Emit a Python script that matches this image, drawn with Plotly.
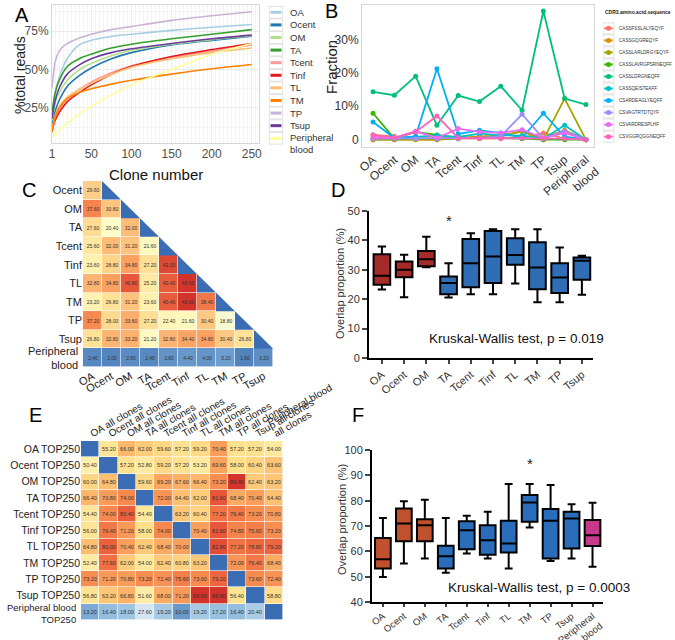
import plotly.graph_objects as go

FONT = "Arial, 'Liberation Sans', sans-serif"
W, H = 675, 640

# ---------------- Panel A : cumulative reads ----------------
clone_number = [1, 5, 10, 20, 35, 50, 75, 100, 150, 200, 250]
samples_a = ["OA", "Ocent", "OM", "TA", "Tcent", "Tinf", "TL", "TM", "TP", "Tsup", "Peripheral blood"]
reads_OA = [20, 35, 45, 57, 66, 69, 71.5, 73, 75.5, 77.5, 79.3]
reads_Ocent = [14, 23, 30, 39, 46, 51, 57, 61, 66, 69, 71.7]
reads_OM = [17, 28, 35, 43, 50, 54, 59, 62.5, 66.5, 69.5, 72]
reads_TA = [22, 35, 43, 52, 57, 60, 64, 66.5, 70, 73, 76]
reads_Tcent = [11, 19, 24, 31, 37, 42, 48, 52.5, 58, 62, 66]
reads_Tinf = [10, 17, 22, 29, 35, 40, 47, 52, 58.5, 63, 67]
reads_TL = [10, 20, 26, 32, 37, 41, 47, 51.5, 57, 61, 64]
reads_TM = [9, 19, 25, 31, 35, 37.5, 40.5, 43, 47, 50.5, 53.3]
reads_TP = [37.6, 55, 62, 67, 70.5, 73, 76, 78, 82, 85, 87.6]
reads_Tsup = [18, 30, 38, 47, 53, 57, 61, 63.5, 67, 70, 72.4]
reads_PB = [6, 8, 10.5, 15, 21, 26, 33.5, 40, 50, 60, 67]
colors_a = ["#a6cee3", "#1f78b4", "#b2df8a", "#33a02c", "#fb9a99", "#e31a1c",
            "#fdbf6f", "#ff7f00", "#cab2d6", "#6a3d9a", "#ffff99"]
legend_a_labels = ["OA", "Ocent", "OM", "TA", "Tcent", "Tinf", "TL", "TM", "TP", "Tsup", "Peripheral<br>blood"]

# ---------------- Panel B : top clonotypes ----------------
tissues_b = ["OA", "Ocent", "OM", "TA", "Tcent", "Tinf", "TL", "TM", "TP", "Tsup", "Peripheral<br>blood"]
cdr3_seqs = ["CASSFSSLALYEQYF", "CASSGQGREQYF", "CASSLARLDRGYEQYF", "CASSLAVRGPSRNEQFF",
             "CASSLDRGNEQFF", "CASSQEISTEAFF", "CSARDEAGLYEQFF", "CSVAGTRTDTQYF",
             "CSVARDRESPLHF", "CSVGGRQGGNEQFF"]
frac_1 = [1.5, 1.0, 0.3, 0.5, 0.3, 0.3, 0.5, 0.5, 2.0, 0.3, 0]
frac_2 = [0, 0, 0.2, 0, 0.5, 1.0, 1.2, 2.5, 0.5, 2.8, 0]
frac_3 = [0, 0, 0, 0, 0.3, 0.8, 1.0, 2.5, 0, 12.3, 0]
frac_4 = [7.9, 0.3, 2.3, 1.4, 0.5, 0.5, 0.5, 0.3, 0, 0, 0]
frac_5 = [14.3, 13.3, 19.0, 4.3, 13.2, 11.4, 16.0, 8.8, 38.5, 12.3, 10.5]
frac_6 = [0.5, 0.3, 0.8, 1.3, 0.8, 1.8, 1.3, 1.2, 0.3, 4.3, 0]
frac_7 = [5.3, 0.5, 1.0, 21.2, 1.7, 2.8, 2.0, 0.5, 7.9, 0.9, 0]
frac_8 = [0.3, 0.3, 0.3, 0.3, 0.3, 0.5, 1.0, 7.6, 0.3, 2.5, 0]
frac_9 = [0.5, 0.5, 2.5, 0.5, 3.3, 2.3, 2.0, 3.0, 0.5, 2.0, 0]
frac_10 = [1.3, 0.5, 2.3, 7.1, 0.5, 0.5, 0.3, 0.5, 0.3, 0.3, 0]
colors_b = ["#F8766D", "#D89000", "#A3A500", "#39B600", "#00BF7D",
            "#00BFC4", "#00B0F6", "#9590FF", "#E76BF3", "#FF62BC"]

# ---------------- Panel C : pairwise overlap (TOP250) ----------------
c_rows = ["Ocent", "OM", "TA", "Tcent", "Tinf", "TL", "TM", "TP", "Tsup", "Peripheral<br>blood"]
c_cols = ["OA", "Ocent", "OM", "TA", "Tcent", "Tinf", "TL", "TM", "TP", "Tsup"]
c_Ocent = [29.60]
c_OM = [37.60, 30.80]
c_TA = [27.60, 20.40, 32.00]
c_Tcent = [25.60, 32.00, 31.20, 21.60]
c_Tinf = [23.60, 28.80, 34.80, 27.20, 42.00]
c_TL = [32.80, 34.80, 40.80, 25.20, 40.40, 43.60]
c_TM = [23.20, 26.80, 31.20, 23.60, 40.40, 43.60, 38.40]
c_TP = [37.20, 28.00, 33.60, 27.20, 22.40, 21.60, 30.40, 18.80]
c_Tsup = [26.80, 32.80, 33.20, 21.20, 32.80, 34.40, 34.80, 30.40, 26.80]
c_PB = [2.40, 2.00, 2.80, 2.40, 3.60, 4.40, 4.00, 5.20, 1.60, 3.20]

# ---------------- Panel D : overlap boxplots ----------------
d_groups = ["OA", "Ocent", "OM", "TA", "Tcent", "Tinf", "TL", "TM", "TP", "Tsup"]
d_min = [23.3, 20.7, 30.9, 20.6, 21.7, 21.7, 25.3, 19.0, 19.0, 21.5]
d_q1 = [24.9, 27.5, 31.2, 21.7, 24.1, 25.5, 31.7, 23.4, 22.1, 26.6]
d_med = [28.0, 30.0, 33.6, 25.5, 32.2, 34.5, 35.0, 30.8, 27.4, 33.1]
d_q3 = [35.3, 32.8, 36.4, 27.7, 40.5, 43.2, 40.7, 39.4, 32.2, 34.2]
d_max = [37.9, 35.1, 41.2, 32.2, 42.4, 43.8, 43.8, 43.8, 37.6, 34.8]
d_colors = ["#a52a2a"] * 3 + ["#2f6db5"] * 7
d_star = ("TA", 46.9)

# ---------------- Panel E : TOP250 vs all clones ----------------
e_rows = ["OA TOP250", "Ocent TOP250", "OM TOP250", "TA TOP250", "Tcent TOP250", "Tinf TOP250",
          "TL TOP250", "TM TOP250", "TP TOP250", "Tsup TOP250", "Peripheral blood<br>TOP250"]
e_cols = ["OA all clones", "Ocent all clones", "OM all clones", "TA all clones", "Tcent all clones",
          "Tinf all clones", "TL all clones", "TM all clones", "TP all clones", "Tsup all clones",
          "Peripheral blood<br>all clones"]
e_OA = [None, 55.20, 66.00, 62.00, 59.60, 57.20, 59.20, 70.40, 57.20, 57.20, 54.00]
e_Ocent = [50.40, None, 57.20, 52.80, 59.20, 57.20, 53.20, 69.60, 58.00, 60.40, 63.60]
e_OM = [60.00, 64.80, None, 59.60, 69.20, 67.60, 66.40, 73.20, 86.40, 62.40, 63.20]
e_TA = [66.40, 70.80, 74.00, None, 72.00, 64.40, 62.00, 81.60, 68.40, 70.40, 64.40]
e_Tcent = [54.40, 74.00, 80.40, 54.40, None, 63.20, 60.40, 77.20, 76.40, 73.20, 70.80]
e_Tinf = [56.00, 76.40, 71.20, 58.00, 74.00, None, 70.40, 81.60, 74.80, 75.60, 73.20]
e_TL = [64.80, 80.00, 70.40, 62.40, 68.40, 70.00, None, 82.80, 77.20, 78.80, 79.20]
e_TM = [52.40, 77.60, 62.00, 54.00, 62.40, 60.80, 63.20, None, 72.00, 76.40, 68.40]
e_TP = [73.20, 71.20, 70.80, 73.20, 72.40, 75.60, 73.60, 79.20, None, 73.60, 72.40]
e_Tsup = [56.80, 63.20, 66.80, 51.60, 68.00, 71.20, 86.80, 86.80, 56.40, None, 58.80]
e_PB = [13.20, 16.40, 18.00, 27.60, 19.20, 10.00, 19.20, 17.20, 16.40, 20.40, None]

# ---------------- Panel F : overlap boxplots ----------------
f_groups = ["OA", "Ocent", "OM", "TA", "Tcent", "Tinf", "TL", "TM", "TP", "Tsup", "Peripheral<br>blood"]
f_min = [49.9, 55.2, 57.2, 51.5, 59.1, 57.2, 53.2, 69.4, 56.2, 57.2, 53.9]
f_q1 = [53.2, 64.0, 64.0, 53.2, 60.8, 58.7, 59.5, 71.7, 57.2, 61.1, 62.1]
f_med = [56.9, 71.0, 70.3, 58.1, 68.3, 64.4, 63.1, 79.3, 72.1, 73.0, 66.3]
f_q3 = [65.3, 76.9, 72.7, 62.2, 71.9, 70.3, 72.1, 82.2, 76.7, 75.6, 72.4]
f_max = [73.2, 79.8, 80.4, 73.2, 74.0, 75.6, 86.6, 86.6, 86.2, 78.6, 79.2]
f_colors = ["#c0502e"] * 3 + ["#2a6ebb"] * 7 + ["#c8398c"]
f_star = ("TM", 94.7)

BLUE_NA = "#3b6db4"


def dx(a, b):
    return [a / W, b / W]


def dy(top, bottom):
    return [1 - bottom / H, 1 - top / H]


fig = go.Figure()

# ---- A traces
reads_a = [reads_OA, reads_Ocent, reads_OM, reads_TA, reads_Tcent, reads_Tinf,
           reads_TL, reads_TM, reads_TP, reads_Tsup, reads_PB]
for name, vals, col in zip(samples_a, reads_a, colors_a):
    fig.add_trace(go.Scatter(x=clone_number, y=vals, mode="lines", name=name,
                             line=dict(color=col, width=1.6, shape="spline", smoothing=0.8),
                             xaxis="x", yaxis="y", showlegend=False))

# ---- A legend (drawn on its own helper axis)
for i, (lab, col) in enumerate(zip(legend_a_labels, colors_a)):
    fig.add_shape(type="rect", xref="x7", yref="y7", x0=1.3, x1=14.7, y0=i - 0.47, y1=i + 0.47,
                  line=dict(color="#d9d9d9", width=0.8), fillcolor="white", layer="below")
    fig.add_trace(go.Scatter(x=[2.5, 13.5], y=[i, i], mode="lines", line=dict(color=col, width=3),
                             xaxis="x7", yaxis="y7", showlegend=False, hoverinfo="skip"))
    fig.add_annotation(xref="x7", yref="y7", x=20, y=i + (0.4 if "<br>" in lab else 0), text=lab,
                       showarrow=False, xanchor="left", yanchor="middle", align="left",
                       font=dict(family=FONT, size=9.5, color="#333"))

# ---- B traces
fracs = [frac_1, frac_2, frac_3, frac_4, frac_5, frac_6, frac_7, frac_8, frac_9, frac_10]
xb = list(range(len(tissues_b)))
for seq, vals, col in zip(cdr3_seqs, fracs, colors_b):
    fig.add_trace(go.Scatter(x=xb, y=vals, mode="lines+markers", name=seq,
                             line=dict(color=col, width=1.8), marker=dict(color=col, size=5),
                             xaxis="x2", yaxis="y2", showlegend=False))

# ---- B legend
fig.add_annotation(xref="x8", yref="y8", x=0, y=-1.35, text="<b>CDR3.amino.acid.sequence</b>",
                   showarrow=False, xanchor="left", yanchor="middle",
                   font=dict(family=FONT, size=5, color="#222"))
for i, (seq, col) in enumerate(zip(cdr3_seqs, colors_b)):
    fig.add_shape(type="rect", xref="x8", yref="y8", x0=0, x1=11, y0=i - 0.46, y1=i + 0.46,
                  line=dict(color="#d9d9d9", width=0.8), fillcolor="white", layer="below")
    fig.add_trace(go.Scatter(x=[1.2, 9.8], y=[i, i], mode="lines", line=dict(color=col, width=2),
                             xaxis="x8", yaxis="y8", showlegend=False, hoverinfo="skip"))
    fig.add_trace(go.Scatter(x=[5.5], y=[i], mode="markers", marker=dict(color=col, size=5),
                             xaxis="x8", yaxis="y8", showlegend=False, hoverinfo="skip"))
    fig.add_annotation(xref="x8", yref="y8", x=14, y=i, text=seq, showarrow=False,
                       xanchor="left", yanchor="middle", font=dict(family=FONT, size=4.6, color="#333"))

# ---- C heatmap
c_lists = [c_Ocent, c_OM, c_TA, c_Tcent, c_Tinf, c_TL, c_TM, c_TP, c_Tsup, c_PB]
nc = len(c_cols)
z_c = [row + [None] * (nc - len(row)) for row in c_lists]
t_c = [["" if v is None else f"{v:.2f}" for v in row] for row in z_c]
scale_c = [[0.0, "#4575b4"], [0.12, "#6f9fcf"], [0.3, "#c6e1ee"], [0.45, "#ffffcc"],
           [0.6, "#fee59a"], [0.72, "#fdbf7a"], [0.84, "#f88d52"], [0.93, "#e5553a"], [1.0, "#cf2f2a"]]
fig.add_trace(go.Heatmap(z=z_c, x=list(range(nc)), y=list(range(len(c_rows))), text=t_c,
                         texttemplate="%{text}", textfont=dict(size=5, color="#333", family=FONT),
                         colorscale=scale_c, zmin=0, zmax=44, showscale=False, xgap=0.6, ygap=0.6,
                         xaxis="x3", yaxis="y3", hoverongaps=False))
# blue upper triangle
tri_x, tri_y = [0.5], [-0.5]
for k in range(len(c_rows) - 1):
    tri_x += [k + 0.5, k + 1.5]
    tri_y += [k + 0.5, k + 0.5]
tri_x += [0.5]
tri_y += [-0.5]
fig.add_trace(go.Scatter(x=tri_x, y=tri_y, mode="lines", fill="toself", fillcolor=BLUE_NA,
                         line=dict(width=0, color=BLUE_NA), xaxis="x3", yaxis="y3",
                         showlegend=False, hoverinfo="skip"))

# ---- D boxes
for i, g in enumerate(d_groups):
    fig.add_trace(go.Box(x=[i], q1=[d_q1[i]], median=[d_med[i]], q3=[d_q3[i]],
                         lowerfence=[d_min[i]], upperfence=[d_max[i]], width=0.75, whiskerwidth=0.5,
                         fillcolor=d_colors[i], line=dict(color="black", width=2),
                         xaxis="x4", yaxis="y4", showlegend=False, name=g))

# ---- E heatmap
e_lists = [e_OA, e_Ocent, e_OM, e_TA, e_Tcent, e_Tinf, e_TL, e_TM, e_TP, e_Tsup, e_PB]
ne = len(e_cols)
t_e = [["" if v is None else f"{v:.2f}" for v in row] for row in e_lists]
scale_e = [[0.0, "#3f6fb5"], [0.12, "#6b9bcd"], [0.2, "#9cc3e0"], [0.33, "#dceaf3"],
           [0.55, "#fff3b5"], [0.66, "#fee08b"], [0.75, "#fdb86b"], [0.84, "#f7894e"],
           [0.92, "#ea5a3a"], [1.0, "#cc2a26"]]
fig.add_trace(go.Heatmap(z=e_lists, x=list(range(ne)), y=list(range(len(e_rows))), text=t_e,
                         texttemplate="%{text}", textfont=dict(size=5.5, color="#333", family=FONT),
                         colorscale=scale_e, zmin=0, zmax=88, showscale=False, xgap=0.6, ygap=0.6,
                         xaxis="x5", yaxis="y5", hoverongaps=False))
z_diag = [[1 if i == j else None for j in range(ne)] for i in range(len(e_rows))]
fig.add_trace(go.Heatmap(z=z_diag, x=list(range(ne)), y=list(range(len(e_rows))),
                         colorscale=[[0, BLUE_NA], [1, BLUE_NA]], showscale=False,
                         xgap=0.6, ygap=0.6, xaxis="x5", yaxis="y5", hoverongaps=False))

# ---- F boxes
for i, g in enumerate(f_groups):
    fig.add_trace(go.Box(x=[i], q1=[f_q1[i]], median=[f_med[i]], q3=[f_q3[i]],
                         lowerfence=[f_min[i]], upperfence=[f_max[i]], width=0.75, whiskerwidth=0.5,
                         fillcolor=f_colors[i], line=dict(color="black", width=2),
                         xaxis="x6", yaxis="y6", showlegend=False, name=g))

tf = dict(family=FONT, size=12, color="#4d4d4d")
blk = dict(family=FONT, size=11, color="#222")

# multi-line row labels are drawn as annotations (right aligned, centred on the row)
c_tick = [r if "<br>" not in r else "" for r in c_rows]
e_tick = [r if "<br>" not in r else "" for r in e_rows]

NOAM = dict(automargin=False)

layout = dict(
    width=W, height=H, autosize=False, margin=dict(l=0, r=0, t=0, b=0, pad=0),
    paper_bgcolor="white", plot_bgcolor="white", showlegend=False, boxmode="overlay",
    font=dict(family=FONT),
    # A
    xaxis=dict(domain=dx(52, 259), range=[1, 259], tickvals=[1, 50, 100, 150, 200, 250],
               showgrid=True, gridcolor="#ebebeb", gridwidth=1,
               minor=dict(dtick=5, showgrid=True, gridcolor="#f3f3f3"),
               showline=True, linecolor="#d6d6d6", mirror=True, zeroline=False, ticks="",
               tickfont=tf, anchor="y", **NOAM),
    yaxis=dict(domain=dy(5, 143), range=[2.2, 92], tickvals=[25, 50, 75],
               ticktext=["25%", "50%", "75%"], showgrid=True, gridcolor="#ebebeb",
               minor=dict(tickvals=[12.5, 37.5, 62.5, 87.5], showgrid=True, gridcolor="#f3f3f3"),
               showline=True, linecolor="#d6d6d6", mirror=True, zeroline=False, ticks="",
               tickfont=tf, anchor="x", **NOAM),
    # B
    xaxis2=dict(domain=dx(362, 594), range=[-0.52, 10.38], tickvals=xb, ticktext=tissues_b,
                tickangle=-40, showgrid=False, zeroline=False, showline=True, linecolor="#d6d6d6",
                mirror=True, ticks="", tickfont=dict(family=FONT, size=12, color="#333"), anchor="y2", **NOAM),
    yaxis2=dict(domain=dy(5, 147), range=[-2.2, 40.3], tickvals=[0, 10, 20, 30, 40],
                ticktext=["0", "10%", "20%", "30%", "40%"], showgrid=False, zeroline=False,
                showline=True, linecolor="#d6d6d6", mirror=True, ticks="",
                tickfont=dict(family=FONT, size=12, color="#333"), anchor="x2", **NOAM),
    # C
    xaxis3=dict(domain=dx(83, 273), range=[-0.5, nc - 0.5], tickvals=list(range(nc)), ticktext=c_cols,
                tickangle=-30, showgrid=False, zeroline=False, showline=False, ticks="",
                tickfont=blk, anchor="y3", **NOAM),
    yaxis3=dict(domain=dy(181, 367), range=[len(c_rows) - 0.5, -0.5], tickvals=list(range(len(c_rows))),
                ticktext=c_tick, showgrid=False, zeroline=False, showline=False, ticks="",
                tickfont=blk, anchor="x3", **NOAM),
    # D
    xaxis4=dict(domain=dx(369, 593), range=[-0.58, 9.5], tickvals=list(range(len(d_groups))),
                ticktext=d_groups, tickangle=-40, showgrid=False, zeroline=False, showline=True,
                linecolor="black", linewidth=2, ticks="outside", ticklen=4, tickwidth=1.5,
                tickfont=dict(family=FONT, size=11, color="#333"), anchor="y4", **NOAM),
    yaxis4=dict(domain=dy(211, 358), range=[0, 50], tickvals=[0, 10, 20, 30, 40, 50],
                showgrid=False, zeroline=False, showline=True, linecolor="black", linewidth=2,
                ticks="outside", ticklen=5, tickwidth=2,
                tickfont=dict(family=FONT, size=11, color="#333"), anchor="x4", **NOAM),
    # E
    xaxis5=dict(domain=dx(81, 283), range=[-0.5, ne - 0.5], tickvals=list(range(ne)), ticktext=e_cols,
                side="top", tickangle=-30, showgrid=False, zeroline=False, showline=False, ticks="",
                tickfont=dict(family=FONT, size=10, color="#222"), anchor="y5", **NOAM),
    yaxis5=dict(domain=dy(441, 620), range=[len(e_rows) - 0.5, -0.5], tickvals=list(range(len(e_rows))),
                ticktext=e_tick, showgrid=False, zeroline=False, showline=False, ticks="",
                tickfont=dict(family=FONT, size=10.5, color="#222"), anchor="x5", **NOAM),
    # F
    xaxis6=dict(domain=dx(372, 603), range=[-0.52, 10.5], tickvals=list(range(len(f_groups))),
                ticktext=f_groups, tickangle=-38, showgrid=False, zeroline=False, showline=True,
                linecolor="black", linewidth=2, ticks="outside", ticklen=3, tickwidth=1.5,
                tickfont=dict(family=FONT, size=9.5, color="#333"), anchor="y6", **NOAM),
    yaxis6=dict(domain=dy(450, 602), range=[40, 100], tickvals=[40, 50, 60, 70, 80, 90, 100],
                showgrid=False, zeroline=False, showline=True, linecolor="black", linewidth=2,
                ticks="outside", ticklen=5, tickwidth=2,
                tickfont=dict(family=FONT, size=11, color="#333"), anchor="x6", **NOAM),
    # legend helper axes
    xaxis7=dict(domain=dx(268, 340), range=[0, 72], visible=False, anchor="y7", **NOAM),
    yaxis7=dict(domain=dy(5, 155), range=[11.33, -0.58], visible=False, anchor="x7", **NOAM),
    xaxis8=dict(domain=dx(603, 675), range=[0, 72], visible=False, anchor="y8", **NOAM),
    yaxis8=dict(domain=dy(5, 150), range=[10.11, -1.94], visible=False, anchor="x8", **NOAM),
)
fig.update_layout(**layout)

# multi-line row labels
for r in c_rows:
    if "<br>" in r:
        fig.add_annotation(xref="paper", yref="y3", x=80 / W, y=c_rows.index(r), text=r, showarrow=False,
                           xanchor="right", yanchor="middle", align="right", font=blk)
for r in e_rows:
    if "<br>" in r:
        fig.add_annotation(xref="paper", yref="y5", x=78 / W, y=e_rows.index(r) + 0.12, text=r,
                           showarrow=False, xanchor="right", yanchor="middle", align="right",
                           font=dict(family=FONT, size=9.5, color="#222"))


# axis titles
def pa(x, y, text, size, angle=0, color="#222"):
    fig.add_annotation(xref="paper", yref="paper", x=x / W, y=1 - y / H, text=text, showarrow=False,
                       textangle=angle, xanchor="center", yanchor="middle",
                       font=dict(family=FONT, size=size, color=color))


pa(20, 75, "%total reads", 14, -90, "#222")
pa(156, 174, "Clone number", 15, 0, "#111")
pa(331, 67, "Fraction", 15, -90, "#222")
pa(340, 283, "Overlap proportion (%)", 11, -90, "#333")
pa(342, 520, "Overlap proportion (%)", 11, -90, "#333")

# panel letters
for lab, x, y in [("A", 22, 15), ("B", 331, 11), ("C", 29, 190), ("D", 338, 190), ("E", 35, 415), ("F", 358, 415)]:
    pa(x, y, lab, 20, 0, "black")

# significance / test annotations
fig.add_annotation(xref="x4", yref="y4", x=d_groups.index(d_star[0]), y=d_star[1], text="*",
                   showarrow=False, font=dict(family=FONT, size=15, color="#222"))
fig.add_annotation(xref="x6", yref="y6", x=f_groups.index(f_star[0]), y=f_star[1], text="*",
                   showarrow=False, font=dict(family=FONT, size=15, color="#222"))
fig.add_annotation(xref="x4", yref="y4", x=6.04, y=6.6, text="Kruskal-Wallis test, p = 0.019",
                   showarrow=False, font=dict(family=FONT, size=13.5, color="#111"))
fig.add_annotation(xref="x6", yref="y6", x=7.43, y=45.9, text="Kruskal-Wallis test, p = 0.0003",
                   showarrow=False, font=dict(family=FONT, size=13.5, color="#111"))

fig.write_html("out.html", config={"responsive": False, "displayModeBar": False},
               post_script="document.body.style.margin='0';document.body.style.padding='0';")
